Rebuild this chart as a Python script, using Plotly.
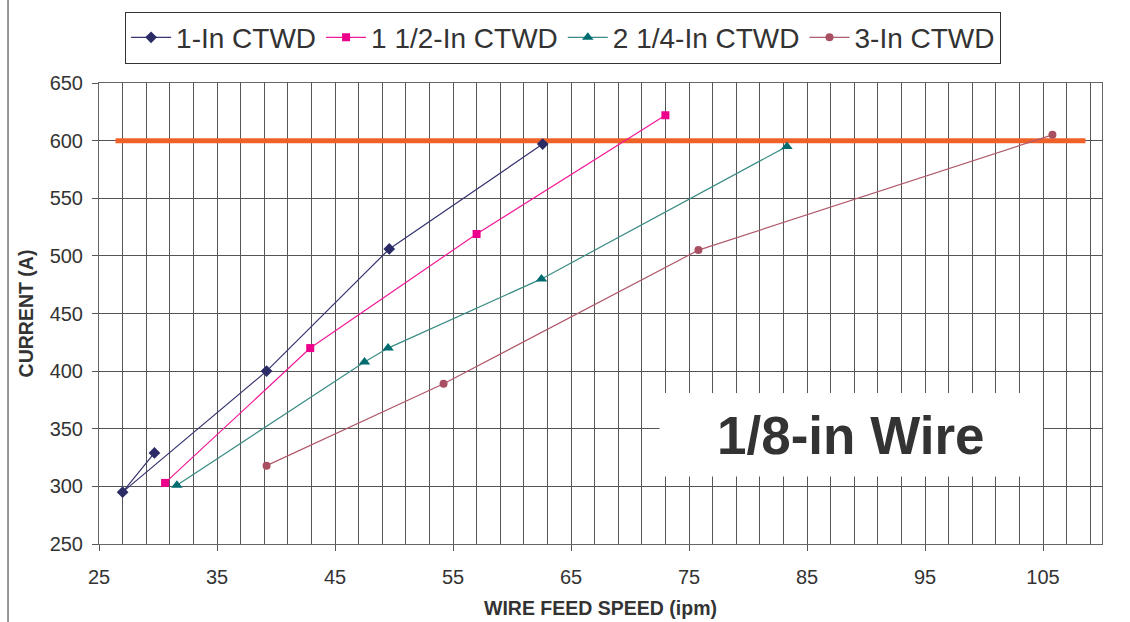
import plotly.graph_objects as go

# ---- data ----
s1_name = "1-In CTWD"
s1_x = [29.7, 27.0, 39.2, 49.6, 62.6]
s1_y = [329, 295, 400, 506, 597]

s2_name = "1 1/2-In CTWD"
s2_x = [30.6, 42.9, 57.0, 73.0]
s2_y = [303, 420, 519, 622]

s3_name = "2 1/4-In CTWD"
s3_x = [31.6, 47.5, 49.5, 62.5, 83.3]
s3_y = [301, 408, 420, 480, 595]

s4_name = "3-In CTWD"
s4_x = [39.2, 54.2, 75.8, 105.8]
s4_y = [318, 389, 505, 605]

limit_x = [26.4, 108.6]
limit_y = [600, 600]

x_title = "WIRE FEED SPEED (ipm)"
y_title = "CURRENT (A)"
label_text = "1/8-in Wire"

FONT = "Liberation Sans, Arial, sans-serif"
TXT = "#333333"
GRID = "#555555"

fig = go.Figure()

fig.add_trace(go.Scatter(x=limit_x, y=limit_y, mode="lines",
                         line=dict(color="#F0612A", width=5),
                         showlegend=False, hoverinfo="skip"))

fig.add_trace(go.Scatter(x=s1_x, y=s1_y, mode="lines+markers", name=s1_name,
                         line=dict(color="#34346E", width=1.2),
                         marker=dict(symbol="diamond", size=9, color="#2B2B66")))
fig.add_trace(go.Scatter(x=s2_x, y=s2_y, mode="lines+markers", name=s2_name,
                         line=dict(color="#F21A96", width=1.2),
                         marker=dict(symbol="square", size=8, color="#EC008C")))
fig.add_trace(go.Scatter(x=s3_x, y=s3_y, mode="lines+markers", name=s3_name,
                         line=dict(color="#3A8C84", width=1.2),
                         marker=dict(symbol="triangle-up", size=10, color="#006C70")))
fig.add_trace(go.Scatter(x=s4_x, y=s4_y, mode="lines+markers", name=s4_name,
                         line=dict(color="#B05A6B", width=1.2),
                         marker=dict(symbol="circle", size=8, color="#A84F62")))

# white label box with text
fig.add_shape(type="rect", xref="x", yref="y", x0=72.5, x1=105.0, y0=308.5, y1=381.0,
              fillcolor="white", line=dict(width=0), layer="above")
fig.add_annotation(x=88.7, y=344.0, xref="x", yref="y", text="<b>" + label_text + "</b>",
                   showarrow=False, font=dict(family=FONT, size=53, color=TXT),
                   xanchor="center", yanchor="middle")

# outer chart frame line on left
fig.add_shape(type="line", xref="paper", yref="paper", x0=-0.0907, x1=-0.0907,
              y0=-0.2, y1=1.2, line=dict(color="#777777", width=1.5))

fig.update_layout(
    width=1130, height=622,
    margin=dict(l=99, r=28, t=83, b=78, autoexpand=False),
    paper_bgcolor="white", plot_bgcolor="white",
    font=dict(family=FONT, color=TXT),
    legend=dict(orientation="h", x=0.4627, xanchor="center", y=1.1548, yanchor="top",
                font=dict(family=FONT, size=28, color=TXT),
                bordercolor="#333333", borderwidth=1, bgcolor="white",
                itemwidth=40, itemclick=False),
    xaxis=dict(range=[25, 110], tick0=25, dtick=10, showgrid=True, gridcolor=GRID, gridwidth=1,
               minor=dict(tick0=25, dtick=2, showgrid=True, gridcolor=GRID, gridwidth=1, ticklen=0),
               ticks="outside", ticklen=6, tickcolor=GRID, ticklabelstandoff=9,
               tickfont=dict(size=20, color=TXT), automargin=False,
               showline=True, linecolor="#666666", mirror=True, zeroline=False,
               title=dict(text="<b>" + x_title + "</b>", font=dict(size=19.5, color=TXT), standoff=14)),
    yaxis=dict(range=[250, 650], tick0=250, dtick=50, showgrid=True, gridcolor=GRID, gridwidth=1,
               ticks="outside", ticklen=6, tickcolor=GRID, ticklabelstandoff=5,
               tickfont=dict(size=20, color=TXT), automargin=False,
               showline=True, linecolor="#666666", mirror=True, zeroline=False,
               title=dict(text="<b>" + y_title + "</b>", font=dict(size=19.5, color=TXT), standoff=10)),
)

fig.write_html("out.html")
